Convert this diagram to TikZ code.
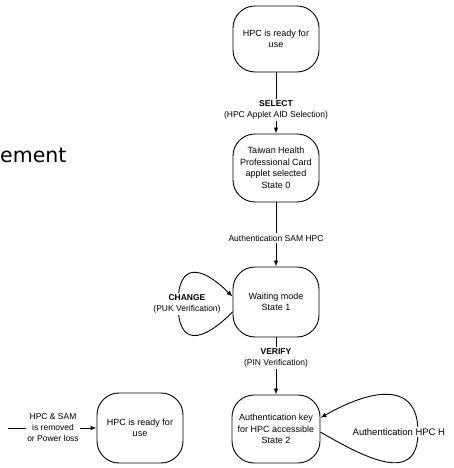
\documentclass[tikz,border=0pt]{standalone}
\usepackage{fontspec}
\setmainfont{Liberation Sans}
\newfontfamily\headfont{DejaVu Sans}
\usetikzlibrary{arrows.meta}
\begin{document}
\begin{tikzpicture}[x=1pt,y=1pt,
  state/.style={draw, line width=0.9pt, rounded corners=22pt, minimum width=86pt,
    minimum height=68pt, inner sep=1pt, align=center,
    font=\fontsize{9}{11.5}\selectfont},
  lbl/.style={fill=white, inner sep=1.5pt, align=center,
    font=\fontsize{8.5}{11}\selectfont},
  arr/.style={line width=0.9pt, -{Latex[length=6pt,width=4.5pt]}},
  ln/.style={line width=0.9pt}]
\useasboundingbox (0,0) rectangle (453,468);
\node[anchor=base west, inner sep=0pt, font=\headfont\fontsize{20.5}{24}\selectfont] (head) at (0,305) {ement};

\node[state, minimum height=66pt] (A) at (276,429) {HPC is ready for\\use};
\node[state] (B) at (276,300) {Taiwan Health\\Professional Card\\applet selected\\State 0};
\node[state, minimum height=70pt] (C) at (276,166) {Waiting mode\\State 1};
\node[state, minimum width=88pt] (D) at (276,39) {Authentication key\\for HPC accessible\\State 2};
\node[state, minimum height=70pt] (E) at (140,40) {HPC is ready for\\use};

\draw[arr] (A) -- (B);
\node[lbl] (sel) at (276,358) {\textbf{SELECT}\\(HPC Applet AID Selection)};
\draw[arr] (B) -- (C);
\node[lbl] (sam) at (276,230) {Authentication SAM HPC};
\draw[arr] (C) -- (D);
\node[lbl] (ver) at (276,110) {\textbf{VERIFY}\\(PIN Verification)};

\coordinate (cl) at (178,164);
\draw[ln] (C.193) to[out=225,in=-90,looseness=2] (cl);
\draw[arr] (cl) to[out=90,in=135,looseness=2] (C.173);
\node[lbl] (chg) at (187,164) {\textbf{CHANGE}\\(PUK Verification)};

\coordinate (dr) at (418,36);
\draw[ln] (D.-4) to[out=-30,in=-90,looseness=1.4] (dr);
\draw[arr] (dr) to[out=90,in=30,looseness=1.4] (D.14);
\node[lbl, anchor=west, font=\fontsize{9.5}{11}\selectfont] (authr) at (351,36) {Authentication HPC H};

\coordinate (src) at (8,40);
\draw[arr] (src) -- (E);
\node[lbl] (rm) at (53,40) {HPC \& SAM\\is removed\\or Power loss};
\end{tikzpicture}
\end{document}
